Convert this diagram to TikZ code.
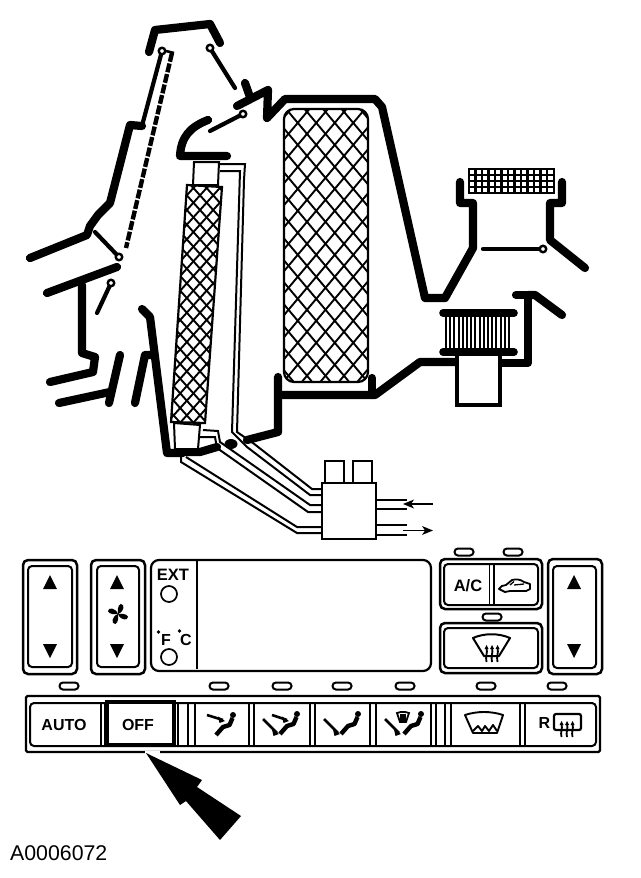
\documentclass[tikz,border=0pt]{standalone}
\usepackage{fontspec}
\setmainfont{Liberation Sans}
\tikzset{
  wall/.style={line width=8.2pt,line join=round,line cap=round},
  flap/.style={line width=4.2pt,line cap=round},
  pivot/.style={draw,fill=white,line width=2.4pt,circle,inner sep=0pt,minimum size=6.5pt},
  tube/.style={line width=2pt,line join=miter},
  hatch/.style={line width=1.9pt},
  btn/.style={line width=2pt,rounded corners=4pt},
  btnout/.style={line width=2.5pt,rounded corners=5pt},
  lamp/.style={draw,fill=white,line width=2pt,rounded corners=3.4pt,minimum width=19pt,minimum height=7pt,inner sep=0pt},
  tag/.style={font=\bfseries,inner sep=0pt},
  tri/.style={fill=black},
  sep/.style={line width=1.9pt},
}
\newcommand\seatfig[2]{%
  \fill (#1,#2) circle (3pt);
  \draw[line width=4.4pt,line join=round] (#1-0.5,#2+3) -- (#1-3.5,#2+10) -- (#1-10,#2+12) -- (#1-17,#2+20);
}
\newcommand\ventarrow[4]{%
  \draw[line width=2.6pt] (#1,#2) -- (#3,#4);
  \fill (#3+2,#4+1) -- (#3-5,#4-3.5) -- (#3-3.5,#4+3) -- cycle;
}
\newcommand\heatlines[3]{%
  \foreach \dx in {-5.5,0,5.5}{
    \draw[line width=1.8pt] (#1+\dx,#2) .. controls (#1+\dx+1.5,#2+5) and (#1+\dx-1.5,#2+8) .. (#1+\dx,#3);
    \fill (#1+\dx,#2-3) -- (#1+\dx-2,#2+1) -- (#1+\dx+2,#2+1) -- cycle;
  }
}
\begin{document}
\begin{tikzpicture}[x=1pt,y=-1pt]
\useasboundingbox (0,0) rectangle (640,878);
\fill[white] (0,0) rectangle (640,878);

% --- duct walls
\draw[wall] (149,52) -- (155,30) -- (210,24) -- (220,43);
\draw[wall] (30,258) -- (87,235) -- (90,226) -- (98,215) -- (110,203) -- (130,125) -- (142,126);
\draw[wall] (237,106) -- (268,90) -- (267,118) -- (285,99) -- (375,99) -- (382,107) -- (425,298) -- (445,298) -- (473,248) -- (473,203) -- (460,203) -- (460,182);
\draw[wall] (245,83) -- (250,97);
\draw[wall] (562,182) -- (562,203) -- (550,203) -- (550,240) -- (585,268);
\draw[wall] (208,120) .. controls (190,127) and (181,137) .. (180,156) -- (227,156);
\draw[wall] (47,293) -- (117,267);
\draw[wall] (82,285) -- (82,353) -- (95,357) -- (93,372) -- (50,382);
\draw[wall] (59,403) -- (110,392);
\draw[wall] (120,355) -- (109,403);
\draw[wall] (142,309) -- (150,317) -- (167,453) -- (183,453);
\draw[wall] (135,403) -- (145,355) -- (153,355);
\draw[wall] (187,452) -- (200,452) -- (217,447);
\fill (231,444) ellipse (6.5pt and 5pt);
\draw[wall] (247,440) -- (278,432) -- (278,377);
\draw[wall] (278,395) -- (375,395) -- (420,362) -- (457,362);
\draw[wall] (372,378) -- (372,395);
\draw[wall] (500,363) -- (528,363) -- (528,295) -- (516,295);
\draw[wall] (528,295) -- (535,295) -- (562,315);

% --- flaps
\draw[flap] (162,51) -- (143,122);
\draw[line width=4.4pt,dash pattern=on 9pt off 1.8pt] (172,53) -- (126,248);
\draw[line width=2.6pt] (166,51) -- (174,53);
\draw[flap] (95,232) -- (119,257);
\node[pivot] (p1) at (162,51) {};
\node[pivot] (p2) at (119,257) {};
\draw[flap] (210,48) -- (235,88);
\node[pivot] (p3) at (210,48) {};
\draw[flap] (243,114) -- (210,131);
\node[pivot] (p4) at (243,114) {};
\draw[flap] (111,283) -- (97,313);
\node[pivot] (p5) at (111,283) {};
\draw[flap] (483,249) -- (543,249);
\node[pivot] (p6) at (543,249) {};

% --- heater core blocks
\draw[line width=2pt,fill=white] (194,162) -- (219,162) -- (218,185) -- (193,185) -- cycle;
\draw[line width=2pt,fill=white] (174,423) -- (200,425) -- (198,449) -- (175,449) -- cycle;
\begin{scope}
 \clip (187,185) -- (222,187) -- (205,423) -- (171,422) -- cycle;
 \foreach \c in {-100,-86.8,...,230}{ \draw[hatch] (\c,170) -- (\c+234,430); }
 \foreach \c in {170,183.2,...,460}{ \draw[hatch] (\c,170) -- (\c-234,430); }
\end{scope}
\draw[line width=2.2pt] (187,185) -- (222,187) -- (205,423) -- (171,422) -- cycle;

% --- refrigerant tubes
\draw[tube] (220,164) -- (245,164) -- (244,180) -- (237,432) -- (253,443) -- (312,489) -- (321,489);
\draw[tube] (220,171) -- (240,171) -- (232,432) -- (247,447) -- (310,495) -- (321,495);
\draw[tube] (203,430) -- (218,431) -- (220,442) -- (310,505) -- (321,505);
\draw[tube] (200,437) -- (215,437) -- (217,448) -- (308,512) -- (321,512);
\draw[tube] (181,453) -- (181,462) -- (297,533) -- (321,533);
\draw[tube] (186,457) -- (297,527) -- (321,527);

% --- connector block
\draw[line width=2.2pt,fill=white] (325,461) rectangle (344,483);
\draw[line width=2.2pt,fill=white] (353,461) rectangle (372,483);
\draw[line width=2.4pt,fill=white] (322,483) rectangle (376,539);
\draw[line width=2.4pt] (376,500) -- (407,500);
\draw[line width=2.4pt] (376,509) -- (407,509);
\draw[line width=2.4pt] (376,525) -- (407,525);
\draw[line width=2.4pt] (376,535) -- (407,535);
\draw[white,line width=5pt] (400,504.5) -- (410,504.5);
\draw[line width=1.1pt] (433,504) -- (408,504);
\fill (403,504) -- (414,499.5) -- (411,504) -- (414,508.5) -- cycle;
\draw[white,line width=5pt] (400,530.5) -- (408,530.5);
\draw[line width=1.1pt] (403,530.5) -- (426,530.5);
\fill (433,530.5) -- (422,526) -- (425,530.5) -- (422,535) -- cycle;

% --- evaporator (large mesh)
\begin{scope}
 \clip[rounded corners=10pt] (284,109) rectangle (368,382);
 \foreach \c in {38,56.5,...,370}{ \draw[hatch] (\c,100) -- (\c+244,390); }
 \foreach \c in {280,298.5,...,640}{ \draw[hatch] (\c,100) -- (\c-244,390); }
\end{scope}
\draw[line width=2.2pt,rounded corners=10pt] (284,109) rectangle (368,382);

% --- grille
\draw[line width=2.4pt] (469,169) rectangle (554,193);
\foreach \gx in {475.5,482,...,550}{ \draw[line width=2.2pt] (\gx,169) -- (\gx,193); }
\foreach \gy in {175,181,187}{ \draw[line width=2.2pt] (469,\gy) -- (554,\gy); }

% --- blower
\draw[line width=4.6pt,fill=white] (457,355) -- (457,405) -- (500,405) -- (500,355);
\foreach \fx in {446,450.2,...,512}{ \draw[line width=2.1pt] (\fx,313) -- (\fx,352); }
\draw[line width=7.6pt,line cap=round] (443,313) -- (514,313);
\draw[line width=7.6pt,line cap=round] (443,352) -- (514,352);

% --- control panel upper row
\draw[btnout] (23,560) rectangle (77,674);
\draw[btn] (28,566) rectangle (72,667);
\fill[tri] (50,575) -- (43,589) -- (57,589) -- cycle;
\fill[tri] (50,658) -- (43,644) -- (57,644) -- cycle;
\draw[btnout] (91,560) rectangle (145,674);
\draw[btn] (97,566) rectangle (139,667);
\fill[tri] (117,575) -- (110,589) -- (124,589) -- cycle;
\fill[tri] (117,658) -- (110,644) -- (124,644) -- cycle;
\begin{scope}[shift={(118,614)}]
 \foreach \a in {20,110,200,290}{
  \fill[rotate=\a] (0,0) .. controls (1,-3) and (2,-8) .. (6,-8.5) .. controls (10,-7) and (7,0) .. (0,0) -- cycle;
 }
\end{scope}
\draw[line width=2.2pt,rounded corners=8pt] (151,560) rectangle (431,671);
\draw[line width=2.2pt] (197,560) -- (197,669);
\node[tag,font=\bfseries\fontsize{16.5}{16}\selectfont] (ext) at (173,574.5) {EXT};
\node[draw,circle,line width=1.7pt,minimum size=16pt,inner sep=0pt] (ledext) at (169,594) {};
\node[tag,font=\bfseries\fontsize{16}{16}\selectfont] (degf) at (166,640) {F};
\node[tag,font=\bfseries\fontsize{16}{16}\selectfont] (degc) at (186,640) {C};
\fill (158.5,632) circle (1.8pt);
\fill (179.5,631) circle (1.8pt);
\node[draw,circle,line width=1.7pt,minimum size=16pt,inner sep=0pt] (ledf) at (169,657) {};

\draw[btnout] (440,559) rectangle (542,609);
\draw[btn] (444,564) rectangle (538,605);
\draw[sep] (489.5,564) -- (489.5,605);
\draw[sep] (494,564) -- (494,605);
\node[tag,font=\bfseries\fontsize{16.5}{16}\selectfont] (ac) at (468,586) {A/C};
\draw[line width=1.8pt,line join=round] (499,589) .. controls (500,586) and (503,585.5) .. (506,585) -- (512,580) .. controls (516,579) and (520,579) .. (524,582) -- (530,584) -- (530,589) -- (526,591) -- (510,591) -- (505,592) -- cycle;
\draw[line width=1.3pt] (510,585) -- (514,581.5) (514,585) -- (524,584);
\draw[btnout] (440,623) rectangle (542,673);
\draw[btn] (444,628) rectangle (538,668);
\draw[line width=2pt,line join=round] (473,638) .. controls (484,633) and (499,633) .. (510,638) -- (499,656) -- (484,656) -- cycle;
\heatlines{492}{648}{662}
\draw[btnout] (548,559) rectangle (602,674);
\draw[btn] (553,566) rectangle (596,668);
\fill[tri] (574,575) -- (567,589) -- (581,589) -- cycle;
\fill[tri] (574,658) -- (567,644) -- (581,644) -- cycle;

% --- indicator lamps
\node[lamp] (l1) at (464,552) {};
\node[lamp] (l2) at (513,552) {};
\node[lamp] (l3) at (492,617) {};
\node[lamp] (l4) at (69,686) {};
\node[lamp] (l5) at (219,686) {};
\node[lamp] (l6) at (282,686) {};
\node[lamp] (l7) at (342,686) {};
\node[lamp] (l8) at (405,686) {};
\node[lamp] (l9) at (486,686) {};
\node[lamp] (l10) at (557,686) {};

% --- lower strip
\draw[line width=2.4pt,rounded corners=1.5pt] (26,696) rectangle (600,752);
\draw[btn] (30,703) rectangle (596,746);
\foreach \lx in {101,105,178,188,195,249,254,310,315,370,376,431,436,445,451,520,525}{
  \draw[sep] (\lx,703) -- (\lx,746);
}
\draw[line width=4pt,fill=white] (107,701.5) rectangle (174,745);
\node[tag,font=\bfseries\fontsize{16}{16}\selectfont] (auto) at (64,725) {AUTO};
\node[tag,font=\bfseries\fontsize{16}{16}\selectfont] (off) at (138,725) {OFF};
\node[tag,font=\bfseries\fontsize{16}{16}\selectfont] (rr) at (544.5,723) {R};

% seat icons
\seatfig{233}{715}
\ventarrow{207}{715}{223}{720}
\seatfig{297}{714}
\ventarrow{272}{715}{287}{720}
\ventarrow{263}{719}{277}{733}
\seatfig{358}{714}
\ventarrow{324}{719}{338}{733}
\seatfig{421}{714}
\ventarrow{385}{719}{399}{733}
\draw[line width=1.8pt] (397,713) .. controls (401,711.5) and (405,711.5) .. (409,713) -- (406,722) -- (400,722) -- cycle;
\draw[line width=1.2pt] (401,714) -- (401,722) (403,714) -- (403,722) (405,714) -- (405,722);

% windshield icon
\draw[line width=1.9pt,line join=round] (465,715) .. controls (477,711) and (491,711) .. (503,715) -- (497,733) -- (473,733) -- cycle;
\draw[line width=1.9pt,line join=round] (473,731) -- (478,726) -- (482,731) -- (485,726) -- (489,731) -- (493,725) -- (497,731);

% rear window icon
\draw[line width=2.2pt,rounded corners=2pt] (554,714) rectangle (581,730);
\heatlines{567}{724}{737}

% --- big arrow (gap in the strip round its tip)
\fill[white] (145,751) rectangle (160,754);
\fill (146,753) -- (202,780) -- (197,787) -- (241,816) -- (220,840) -- (186,801) -- (180,805) -- cycle;

\node[anchor=west,inner sep=0pt,font=\fontsize{21.3}{21}\selectfont] (code) at (10,853) {A0006072};
\end{tikzpicture}
\end{document}
